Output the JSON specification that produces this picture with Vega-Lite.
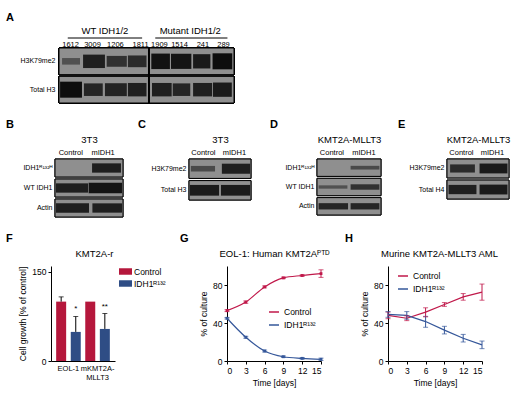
{
  "$schema": "https://vega.github.io/schema/vega-lite/v6.json",
  "padding": {"left": 6, "top": 12, "right": 4, "bottom": 4},
  "config": {
    "font": "Liberation Sans",
    "view": {"stroke": null},
    "axis": {"grid": false, "labelColor": "#000", "titleColor": "#000", "domainColor": "#000", "tickColor": "#000", "labelFontSize": 8.5, "titleFontSize": 8.5, "titleFontWeight": "normal", "tickSize": 3, "labelPadding": 2, "titlePadding": 4, "titleFont": "Liberation Sans", "labelFont": "Liberation Sans"},
    "title": {"anchor": "start", "frame": "group", "fontSize": 11, "fontWeight": "bold", "color": "#000", "offset": 0},
    "legend": {"labelFontSize": 8.5, "labelColor": "#000", "labelFont": "Liberation Sans"}
  },
  "datasets": {
    "headA_groups": [
      {"label": "WT IDH1/2", "pos": 2.1},
      {"label": "Mutant IDH1/2", "pos": 6.0}
    ],
    "headA_lines": [
      {"x0": 0.4, "x1": 3.8},
      {"x0": 4.4, "x1": 7.7}
    ],
    "headA_lanes": [
      {"label": "1612", "pos": 0.53},
      {"label": "3009", "pos": 1.53},
      {"label": "1206", "pos": 2.58},
      {"label": "1811", "pos": 3.73},
      {"label": "1909", "pos": 4.59},
      {"label": "1514", "pos": 5.51},
      {"label": "241", "pos": 6.58},
      {"label": "289", "pos": 7.52}
    ],
    "blotA": [
      {"row": "H3K79me2", "x0": 0.14, "x1": 0.96, "signal": 0.45},
      {"row": "H3K79me2", "x0": 1.1, "x1": 2.1, "signal": 0.85},
      {"row": "H3K79me2", "x0": 2.18, "x1": 3.1, "signal": 0.7},
      {"row": "H3K79me2", "x0": 3.15, "x1": 4.0, "signal": 0.75},
      {"row": "H3K79me2", "x0": 4.22, "x1": 5.07, "signal": 0.97},
      {"row": "H3K79me2", "x0": 5.12, "x1": 6.05, "signal": 0.95},
      {"row": "H3K79me2", "x0": 6.13, "x1": 6.92, "signal": 0.9},
      {"row": "H3K79me2", "x0": 7.02, "x1": 7.92, "signal": 1.0},
      {"row": "Total H3", "x0": 0.05, "x1": 1.05, "signal": 1.0},
      {"row": "Total H3", "x0": 1.14, "x1": 2.0, "signal": 0.8},
      {"row": "Total H3", "x0": 2.1, "x1": 3.1, "signal": 0.82},
      {"row": "Total H3", "x0": 3.15, "x1": 4.0, "signal": 0.85},
      {"row": "Total H3", "x0": 4.25, "x1": 5.15, "signal": 0.85},
      {"row": "Total H3", "x0": 5.2, "x1": 6.0, "signal": 0.8},
      {"row": "Total H3", "x0": 6.13, "x1": 7.0, "signal": 0.85},
      {"row": "Total H3", "x0": 7.04, "x1": 7.9, "signal": 0.9}
    ],
    "blotB": [
      {"row": "IDH1ᴿ¹³²ᴴ", "x0": 0.05, "x1": 0.95, "signal": 0},
      {"row": "IDH1ᴿ¹³²ᴴ", "x0": 1.09, "x1": 1.94, "signal": 0.85},
      {"row": "WT IDH1", "x0": 0.03, "x1": 0.97, "signal": 0.85},
      {"row": "WT IDH1", "x0": 0.99, "x1": 1.97, "signal": 0.95},
      {"row": "Actin", "x0": 0.03, "x1": 1.0, "signal": 0.85},
      {"row": "Actin", "x0": 1.1, "x1": 1.97, "signal": 0.85}
    ],
    "blotC": [
      {"row": "H3K79me2", "x0": 0.06, "x1": 0.84, "signal": 0.5},
      {"row": "H3K79me2", "x0": 1.06, "x1": 1.97, "signal": 0.85},
      {"row": "Total H3", "x0": 0.03, "x1": 0.97, "signal": 0.9},
      {"row": "Total H3", "x0": 1.03, "x1": 1.97, "signal": 0.9}
    ],
    "blotD": [
      {"row": "IDH1ᴿ¹³²ᴴ", "x0": 0.05, "x1": 0.95, "signal": 0},
      {"row": "IDH1ᴿ¹³²ᴴ", "x0": 1.05, "x1": 1.95, "signal": 0.5},
      {"row": "WT IDH1", "x0": 0.05, "x1": 0.95, "signal": 0.45},
      {"row": "WT IDH1", "x0": 1.05, "x1": 1.95, "signal": 0.7},
      {"row": "Actin", "x0": 0.05, "x1": 0.97, "signal": 0.8},
      {"row": "Actin", "x0": 1.05, "x1": 1.95, "signal": 0.8}
    ],
    "blotE": [
      {"row": "H3K79me2", "x0": 0.1, "x1": 0.9, "signal": 0.75},
      {"row": "H3K79me2", "x0": 1.05, "x1": 1.95, "signal": 0.9},
      {"row": "Total H4", "x0": 0.05, "x1": 0.95, "signal": 0.85},
      {"row": "Total H4", "x0": 1.05, "x1": 1.95, "signal": 0.9}
    ],
    "growth": [
      {"line": "EOL-1", "group": "Control", "value": 100, "hi": 108, "sig": ""},
      {"line": "EOL-1", "group": "IDH1ᴿ¹³²", "value": 49, "hi": 75, "sig": "*"},
      {"line": "mKMT2A-MLLT3", "group": "Control", "value": 100, "hi": null, "sig": ""},
      {"line": "mKMT2A-MLLT3", "group": "IDH1ᴿ¹³²", "value": 54, "hi": 80, "sig": "**"}
    ],
    "eol": [
      {"day": 0, "series": "Control", "value": 53, "lo": 52, "hi": 54},
      {"day": 3, "series": "Control", "value": 62, "lo": 60.8, "hi": 63.2},
      {"day": 6, "series": "Control", "value": 78, "lo": 77, "hi": 79},
      {"day": 9, "series": "Control", "value": 87.5, "lo": 86.7, "hi": 88.3},
      {"day": 12, "series": "Control", "value": 90, "lo": 89.2, "hi": 90.8},
      {"day": 15, "series": "Control", "value": 92, "lo": 88, "hi": 96},
      {"day": 0, "series": "IDH1ᴿ¹³²", "value": 45, "lo": 44.2, "hi": 45.8},
      {"day": 3, "series": "IDH1ᴿ¹³²", "value": 25, "lo": 24, "hi": 26},
      {"day": 6, "series": "IDH1ᴿ¹³²", "value": 10.5, "lo": 9.5, "hi": 11.5},
      {"day": 9, "series": "IDH1ᴿ¹³²", "value": 4.5, "lo": 3.7, "hi": 5.3},
      {"day": 12, "series": "IDH1ᴿ¹³²", "value": 2.8, "lo": 2, "hi": 3.6},
      {"day": 15, "series": "IDH1ᴿ¹³²", "value": 1.8, "lo": 0.6, "hi": 3}
    ],
    "murine": [
      {"day": 0, "series": "Control", "value": 48, "lo": 44.5, "hi": 51.5},
      {"day": 3, "series": "Control", "value": 45, "lo": 42.5, "hi": 47.5},
      {"day": 6, "series": "Control", "value": 51.5, "lo": 46.5, "hi": 56},
      {"day": 9, "series": "Control", "value": 59.5, "lo": 57.5, "hi": 61.5},
      {"day": 12, "series": "Control", "value": 67.5, "lo": 64, "hi": 71},
      {"day": 15, "series": "Control", "value": 72.5, "lo": 64, "hi": 81},
      {"day": 0, "series": "IDH1ᴿ¹³²", "value": 49, "lo": 46, "hi": 52},
      {"day": 3, "series": "IDH1ᴿ¹³²", "value": 48, "lo": 44, "hi": 52},
      {"day": 6, "series": "IDH1ᴿ¹³²", "value": 41.5, "lo": 35.5, "hi": 47},
      {"day": 9, "series": "IDH1ᴿ¹³²", "value": 32.5, "lo": 28.5, "hi": 36.5},
      {"day": 12, "series": "IDH1ᴿ¹³²", "value": 24, "lo": 20, "hi": 28},
      {"day": 15, "series": "IDH1ᴿ¹³²", "value": 17, "lo": 13, "hi": 21}
    ]
  },
  "vconcat": [
    {
      "bounds": "flush",
      "spacing": 0,
      "vconcat": [
        {
          "width": 183,
          "height": 20,
          "title": {"text": "A", "dx": -45, "offset": 3},
          "layer": [
            {
              "data": {"name": "headA_groups"},
              "mark": {"type": "text", "fontSize": 9.5},
              "encoding": {
                "x": {"field": "pos", "type": "quantitative", "scale": {"domain": [0, 8], "range": [8, 183]}, "axis": null},
                "y": {"datum": "group", "type": "nominal", "scale": {"domain": ["group", "line", "lane"]}, "axis": null},
                "text": {"field": "label"}
              }
            },
            {
              "data": {"name": "headA_lines"},
              "mark": {"type": "rule", "color": "#000", "strokeWidth": 1},
              "encoding": {
                "x": {"field": "x0", "type": "quantitative"},
                "x2": {"field": "x1"},
                "y": {"datum": "line", "type": "nominal"}
              }
            },
            {
              "data": {"name": "headA_lanes"},
              "mark": {"type": "text", "fontSize": 7.5},
              "encoding": {
                "x": {"field": "pos", "type": "quantitative"},
                "y": {"datum": "lane", "type": "nominal"},
                "text": {"field": "label"}
              }
            }
          ]
        },
        {
          "width": 183,
          "height": 55,
          "data": {"name": "blotA"},
          "layer": [
            {
              "mark": {"type": "rect", "fill": "#8f8f8f", "stroke": "#000", "strokeWidth": 1},
              "encoding": {
                "x": {"datum": 0, "type": "quantitative", "scale": {"domain": [0, 8], "range": [8, 183]}, "axis": null},
                "x2": {"datum": 8},
                "y": {"field": "row", "type": "nominal", "scale": {"domain": ["H3K79me2", "Total H3"], "paddingInner": 0.06, "paddingOuter": 0}, "axis": {"title": null, "ticks": false, "domain": false, "labelFontSize": 7, "labelPadding": 4, "offset": -8}}
              }
            },
            {
              "transform": [{"filter": "datum.signal > 0"}],
              "mark": {"type": "rule", "strokeCap": "butt"},
              "encoding": {
                "x": {"field": "x0", "type": "quantitative"},
                "x2": {"field": "x1"},
                "y": {"field": "row", "type": "nominal"},
                "color": {"field": "signal", "type": "quantitative", "scale": {"domain": [0, 1], "range": ["#8f8f8f", "#0d0d0d"]}, "legend": null},
                "size": {"field": "signal", "type": "quantitative", "scale": {"domain": [0.3, 1], "range": [4, 16]}, "legend": null}
              }
            },
            {
              "mark": {"type": "rule", "color": "#000", "strokeWidth": 1},
              "encoding": {"x": {"datum": 4.1, "type": "quantitative"}}
            }
          ]
        }
      ]
    },
    {
      "bounds": "flush",
      "spacing": 66,
      "resolve": {"scale": {"color": "independent", "size": "independent"}, "legend": {"color": "independent", "size": "independent"}},
      "hconcat": [
        {
          "width": 72,
          "height": 58,
          "title": {"text": "B", "dx": -45},
          "data": {"name": "blotB"},
          "layer": [
            {
              "mark": {"type": "rect", "fill": "#8f8f8f", "stroke": "#000", "strokeWidth": 1},
              "encoding": {
                "x": {"datum": 0, "type": "quantitative", "scale": {"domain": [0, 2], "range": [4, 72]}, "axis": {"orient": "top", "values": [0.45, 1.4], "labelExpr": "datum.value < 1 ? 'Control' : 'mIDH1'", "ticks": false, "domain": false, "labelFontSize": 7.5, "labelPadding": 3, "title": "3T3", "titleFontSize": 9.5, "titlePadding": 4}},
                "x2": {"datum": 2},
                "y": {"field": "row", "type": "nominal", "scale": {"domain": ["IDH1ᴿ¹³²ᴴ", "WT IDH1", "Actin"], "paddingInner": 0.1, "paddingOuter": 0}, "axis": {"title": null, "ticks": false, "domain": false, "labelFontSize": 7, "labelPadding": 3, "offset": -4}}
              }
            },
            {
              "transform": [{"filter": "datum.signal > 0"}],
              "mark": {"type": "rule", "strokeCap": "butt"},
              "encoding": {
                "x": {"field": "x0", "type": "quantitative"},
                "x2": {"field": "x1"},
                "y": {"field": "row", "type": "nominal"},
                "color": {"field": "signal", "type": "quantitative", "scale": {"domain": [0, 1], "range": ["#8f8f8f", "#0d0d0d"]}, "legend": null},
                "size": {"field": "signal", "type": "quantitative", "scale": {"domain": [0.3, 1], "range": [3, 11]}, "legend": null}
              }
            }
          ]
        },
        {
          "width": 62,
          "height": 41,
          "title": {"text": "C", "dx": -51},
          "data": {"name": "blotC"},
          "layer": [
            {
              "mark": {"type": "rect", "fill": "#8f8f8f", "stroke": "#000", "strokeWidth": 1},
              "encoding": {
                "x": {"datum": 0, "type": "quantitative", "scale": {"domain": [0, 2]}, "axis": {"orient": "top", "values": [0.45, 1.45], "labelExpr": "datum.value < 1 ? 'Control' : 'mIDH1'", "ticks": false, "domain": false, "labelFontSize": 7.5, "labelPadding": 3, "title": "3T3", "titleFontSize": 9.5, "titlePadding": 4}},
                "x2": {"datum": 2},
                "y": {"field": "row", "type": "nominal", "scale": {"domain": ["H3K79me2", "Total H3"], "paddingInner": 0.1, "paddingOuter": 0}, "axis": {"title": null, "ticks": false, "domain": false, "labelFontSize": 7, "labelPadding": 3}}
              }
            },
            {
              "transform": [{"filter": "datum.signal > 0"}],
              "mark": {"type": "rule", "strokeCap": "butt"},
              "encoding": {
                "x": {"field": "x0", "type": "quantitative"},
                "x2": {"field": "x1"},
                "y": {"field": "row", "type": "nominal"},
                "color": {"field": "signal", "type": "quantitative", "scale": {"domain": [0, 1], "range": ["#8f8f8f", "#0d0d0d"]}, "legend": null},
                "size": {"field": "signal", "type": "quantitative", "scale": {"domain": [0.3, 1], "range": [3, 12]}, "legend": null}
              }
            }
          ]
        },
        {
          "width": 64,
          "height": 56,
          "title": {"text": "D", "dx": -47},
          "data": {"name": "blotD"},
          "layer": [
            {
              "mark": {"type": "rect", "fill": "#8f8f8f", "stroke": "#000", "strokeWidth": 1},
              "encoding": {
                "x": {"datum": 0, "type": "quantitative", "scale": {"domain": [0, 2]}, "axis": {"orient": "top", "values": [0.45, 1.45], "labelExpr": "datum.value < 1 ? 'Control' : 'mIDH1'", "ticks": false, "domain": false, "labelFontSize": 7.5, "labelPadding": 3, "title": "KMT2A-MLLT3", "titleFontSize": 9.5, "titlePadding": 4}},
                "x2": {"datum": 2},
                "y": {"field": "row", "type": "nominal", "scale": {"domain": ["IDH1ᴿ¹³²ᴴ", "WT IDH1", "Actin"], "paddingInner": 0.1, "paddingOuter": 0}, "axis": {"title": null, "ticks": false, "domain": false, "labelFontSize": 7, "labelPadding": 3}}
              }
            },
            {
              "transform": [{"filter": "datum.signal > 0"}],
              "mark": {"type": "rule", "strokeCap": "butt"},
              "encoding": {
                "x": {"field": "x0", "type": "quantitative"},
                "x2": {"field": "x1"},
                "y": {"field": "row", "type": "nominal"},
                "color": {"field": "signal", "type": "quantitative", "scale": {"domain": [0, 1], "range": ["#8f8f8f", "#0d0d0d"]}, "legend": null},
                "size": {"field": "signal", "type": "quantitative", "scale": {"domain": [0.3, 1], "range": [2, 8]}, "legend": null}
              }
            }
          ]
        },
        {
          "width": 62,
          "height": 40,
          "title": {"text": "E", "dx": -49},
          "data": {"name": "blotE"},
          "layer": [
            {
              "mark": {"type": "rect", "fill": "#8f8f8f", "stroke": "#000", "strokeWidth": 1},
              "encoding": {
                "x": {"datum": 0, "type": "quantitative", "scale": {"domain": [0, 2]}, "axis": {"orient": "top", "values": [0.45, 1.45], "labelExpr": "datum.value < 1 ? 'Control' : 'mIDH1'", "ticks": false, "domain": false, "labelFontSize": 7.5, "labelPadding": 3, "title": "KMT2A-MLLT3", "titleFontSize": 9.5, "titlePadding": 4}},
                "x2": {"datum": 2},
                "y": {"field": "row", "type": "nominal", "scale": {"domain": ["H3K79me2", "Total H4"], "paddingInner": 0.1, "paddingOuter": 0}, "axis": {"title": null, "ticks": false, "domain": false, "labelFontSize": 7, "labelPadding": 3}}
              }
            },
            {
              "transform": [{"filter": "datum.signal > 0"}],
              "mark": {"type": "rule", "strokeCap": "butt"},
              "encoding": {
                "x": {"field": "x0", "type": "quantitative"},
                "x2": {"field": "x1"},
                "y": {"field": "row", "type": "nominal"},
                "color": {"field": "signal", "type": "quantitative", "scale": {"domain": [0, 1], "range": ["#8f8f8f", "#0d0d0d"]}, "legend": null},
                "size": {"field": "signal", "type": "quantitative", "scale": {"domain": [0.3, 1], "range": [3, 11]}, "legend": null}
              }
            }
          ]
        }
      ]
    },
    {
      "bounds": "flush",
      "spacing": 67,
      "resolve": {"scale": {"color": "independent", "y": "independent"}, "legend": {"color": "independent"}, "axis": {"y": "independent"}},
      "hconcat": [
        {
          "width": 109,
          "height": 95,
          "title": {"text": "F", "dx": -45, "offset": 4},
          "data": {"name": "growth"},
          "encoding": {
            "x": {"field": "line", "type": "nominal", "sort": null, "scale": {"range": [0, 64], "paddingInner": 0, "paddingOuter": 0.1}, "axis": {"title": null, "labelAngle": 0, "ticks": false, "labelPadding": 3, "labelFontSize": 7.5, "labelExpr": "datum.label == 'mKMT2A-MLLT3' ? ['mKMT2A-', 'MLLT3'] : datum.label"}},
            "xOffset": {"field": "group", "type": "nominal", "sort": null, "scale": {"paddingInner": 0.315, "paddingOuter": 0.154}}
          },
          "layer": [
            {
              "mark": {"type": "bar"},
              "encoding": {
                "y": {"field": "value", "type": "quantitative", "scale": {"domain": [0, 150]}, "axis": {"values": [0, 50, 100, 150], "title": "Cell growth [% of control]"}},
                "color": {"field": "group", "type": "nominal", "sort": null, "scale": {"domain": ["Control", "IDH1ᴿ¹³²"], "range": ["#b5173c", "#2f4d85"]}, "legend": {"title": null, "orient": "none", "legendX": 69, "legendY": 0, "symbolType": "M-1.2,-0.6H1.2V0.6H-1.2Z", "symbolSize": 117, "symbolStrokeWidth": 0, "symbolOpacity": 1, "rowPadding": 2, "labelOffset": 3}}
              }
            },
            {
              "transform": [{"filter": "isValid(datum.hi)"}],
              "mark": {"type": "rule", "color": "#000", "strokeWidth": 1},
              "encoding": {
                "x": {"field": "line", "type": "nominal", "sort": null, "axis": null},
                "y": {"field": "value", "type": "quantitative", "axis": {"title": "Cell growth [% of control]"}},
                "y2": {"field": "hi"}
              }
            },
            {
              "transform": [{"filter": "isValid(datum.hi)"}],
              "mark": {"type": "tick", "color": "#000", "size": 5, "thickness": 1},
              "encoding": {
                "x": {"field": "line", "type": "nominal", "sort": null, "axis": null},
                "y": {"field": "hi", "type": "quantitative", "axis": {"title": "Cell growth [% of control]"}}
              }
            },
            {
              "transform": [{"filter": "isValid(datum.hi)"}],
              "mark": {"type": "text", "dy": -3, "fontSize": 8, "baseline": "bottom"},
              "encoding": {
                "x": {"field": "line", "type": "nominal", "sort": null, "axis": {"orient": "top", "title": "KMT2A-r", "labels": false, "ticks": false, "domain": false, "titleFontSize": 9.5, "titlePadding": 8, "titleX": 43}},
                "y": {"field": "hi", "type": "quantitative", "axis": {"title": "Cell growth [% of control]"}},
                "text": {"field": "sig"}
              }
            }
          ],
          "resolve": {"axis": {"x": "independent"}}
        },
        {
          "width": 94,
          "height": 95,
          "title": {"text": "G", "dx": -47, "offset": 4},
          "data": {"name": "eol"},
          "encoding": {
            "x": {"field": "day", "type": "quantitative", "scale": {"domain": [0, 15]}, "axis": {"values": [0, 3, 6, 9, 12, 15], "title": "Time [days]"}}
          },
          "layer": [
            {
              "mark": {"type": "line", "interpolate": "monotone", "strokeWidth": 1.2},
              "encoding": {
                "y": {"field": "value", "type": "quantitative", "scale": {"domain": [0, 100], "nice": false, "zero": true}, "axis": {"values": [0, 20, 40, 60, 80, 100], "title": "% of culture", "labelOverlap": false, "labelFlush": false}},
                "color": {"field": "series", "type": "nominal", "sort": null, "scale": {"domain": ["Control", "IDH1ᴿ¹³²"], "range": ["#c0184a", "#35579a"]}, "legend": {"title": null, "orient": "none", "legendX": 41, "legendY": 40}}
              }
            },
            {
              "mark": {"type": "rule", "strokeWidth": 1},
              "encoding": {
                "x": {"field": "day", "type": "quantitative", "axis": null},
                "y": {"field": "lo", "type": "quantitative", "scale": {"domain": [0, 100], "nice": false, "zero": true}, "axis": {"title": "% of culture"}},
                "y2": {"field": "hi"},
                "color": {"field": "series", "type": "nominal", "legend": null}
              }
            },
            {
              "mark": {"type": "tick", "orient": "horizontal", "size": 5, "thickness": 1},
              "encoding": {
                "x": {"field": "day", "type": "quantitative", "axis": null},
                "y": {"field": "hi", "type": "quantitative", "scale": {"domain": [0, 100], "nice": false, "zero": true}, "axis": {"title": "% of culture"}},
                "color": {"field": "series", "type": "nominal", "legend": null}
              }
            },
            {
              "mark": {"type": "tick", "orient": "horizontal", "size": 5, "thickness": 1},
              "encoding": {
                "x": {"field": "day", "type": "quantitative", "axis": null},
                "y": {"field": "lo", "type": "quantitative", "scale": {"domain": [0, 100], "nice": false, "zero": true}, "axis": {"title": "% of culture"}},
                "color": {"field": "series", "type": "nominal", "legend": null}
              }
            },
            {
              "mark": {"type": "point", "shape": "square", "filled": true, "size": 8, "opacity": 1},
              "encoding": {
                "x": {"field": "day", "type": "quantitative", "axis": {"orient": "top", "title": "EOL-1: Human KMT2Aᴾᵀᴰ", "labels": false, "ticks": false, "domain": false, "titleFontSize": 9.5, "titlePadding": 8}},
                "y": {"field": "value", "type": "quantitative", "scale": {"domain": [0, 100], "nice": false, "zero": true}, "axis": {"title": "% of culture"}},
                "color": {"field": "series", "type": "nominal", "legend": null}
              }
            }
          ],
          "resolve": {"axis": {"x": "independent"}}
        },
        {
          "width": 94,
          "height": 95,
          "title": {"text": "H", "dx": -43, "offset": 4},
          "data": {"name": "murine"},
          "encoding": {
            "x": {"field": "day", "type": "quantitative", "scale": {"domain": [0, 15]}, "axis": {"values": [0, 3, 6, 9, 12, 15], "title": "Time [days]"}}
          },
          "layer": [
            {
              "mark": {"type": "line", "strokeWidth": 1.2},
              "encoding": {
                "y": {"field": "value", "type": "quantitative", "scale": {"domain": [0, 100], "nice": false, "zero": true}, "axis": {"values": [0, 20, 40, 60, 80, 100], "title": "% of culture", "labelOverlap": false, "labelFlush": false}},
                "color": {"field": "series", "type": "nominal", "sort": null, "scale": {"domain": ["Control", "IDH1ᴿ¹³²"], "range": ["#c0184a", "#35579a"]}, "legend": {"title": null, "orient": "none", "legendX": 9, "legendY": 4}}
              }
            },
            {
              "mark": {"type": "rule", "strokeWidth": 1},
              "encoding": {
                "x": {"field": "day", "type": "quantitative", "axis": null},
                "y": {"field": "lo", "type": "quantitative", "scale": {"domain": [0, 100], "nice": false, "zero": true}, "axis": {"title": "% of culture"}},
                "y2": {"field": "hi"},
                "color": {"field": "series", "type": "nominal", "legend": null}
              }
            },
            {
              "mark": {"type": "tick", "orient": "horizontal", "size": 5, "thickness": 1},
              "encoding": {
                "x": {"field": "day", "type": "quantitative", "axis": null},
                "y": {"field": "hi", "type": "quantitative", "scale": {"domain": [0, 100], "nice": false, "zero": true}, "axis": {"title": "% of culture"}},
                "color": {"field": "series", "type": "nominal", "legend": null}
              }
            },
            {
              "mark": {"type": "tick", "orient": "horizontal", "size": 5, "thickness": 1},
              "encoding": {
                "x": {"field": "day", "type": "quantitative", "axis": {"orient": "top", "title": "Murine KMT2A-MLLT3 AML", "labels": false, "ticks": false, "domain": false, "titleFontSize": 9.5, "titlePadding": 8, "titleX": 51}},
                "y": {"field": "lo", "type": "quantitative", "scale": {"domain": [0, 100], "nice": false, "zero": true}, "axis": {"title": "% of culture"}},
                "color": {"field": "series", "type": "nominal", "legend": null}
              }
            }
          ],
          "resolve": {"axis": {"x": "independent"}}
        }
      ]
    }
  ],
  "spacing": 15
}
